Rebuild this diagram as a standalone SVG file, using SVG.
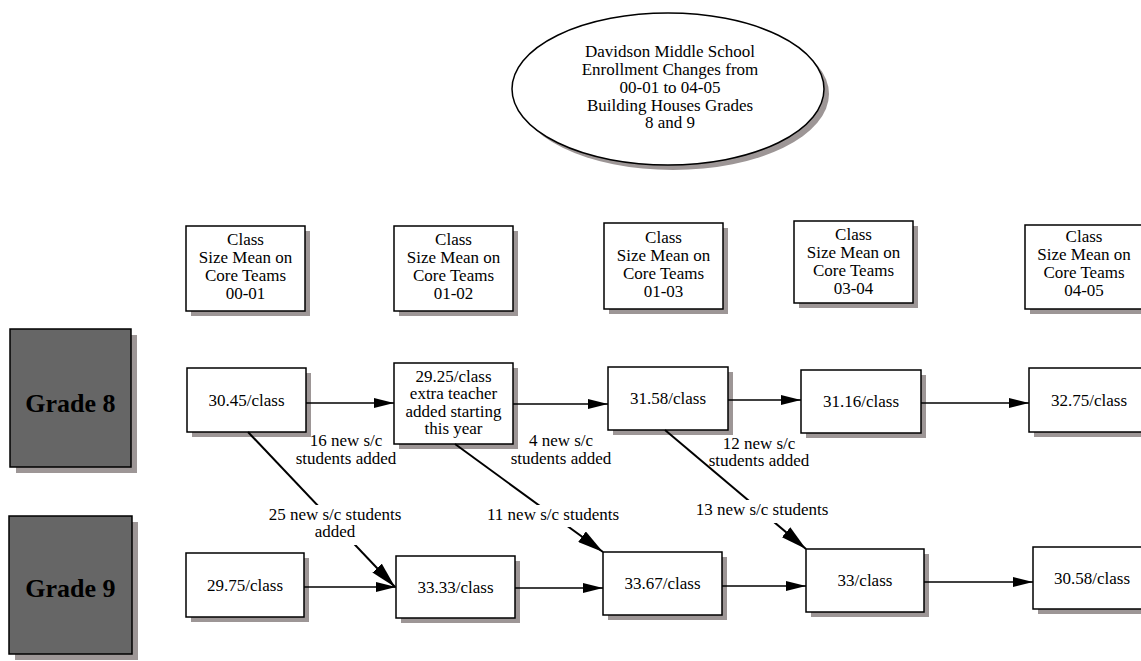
<svg xmlns="http://www.w3.org/2000/svg" width="1141" height="661" viewBox="0 0 1141 661">
  <style>
    .sh{fill:#9d9696}
    .bx{fill:#fff;stroke:#000;stroke-width:1.5}
    .gr{fill:#666;stroke:#000;stroke-width:1.5}
    text{font-family:"Liberation Serif","Times New Roman",serif;font-size:17px;text-anchor:middle;fill:#000}
    .g{font-size:26px;font-weight:bold}
    .ln{stroke:#000;stroke-width:1.5;fill:none;marker-end:url(#ah)}
    .dg{stroke:#000;stroke-width:2;fill:none;marker-end:url(#ahd)}
    .lb{fill:#fff}
  </style>
  <defs>
    <marker id="ah" markerUnits="userSpaceOnUse" markerWidth="20" markerHeight="10" refX="20" refY="5" orient="auto">
      <path d="M0,0 L20,5 L0,10 Z" fill="#000"/>
    </marker>
    <marker id="ahd" markerUnits="userSpaceOnUse" markerWidth="26" markerHeight="13" refX="26" refY="6.5" orient="auto">
      <path d="M0,0 L26,6.5 L0,13 Z" fill="#000"/>
    </marker>
  </defs>
  <rect width="1141" height="661" fill="#fff"/>

  <!-- title -->
  <g id="title">
    <ellipse class="sh" cx="673" cy="94" rx="156" ry="76"/>
    <ellipse class="bx" cx="668" cy="89" rx="156" ry="76"/>
    <text x="670" y="57">Davidson Middle School</text>
    <text x="670" y="75">Enrollment Changes from</text>
    <text x="670" y="93">00-01 to 04-05</text>
    <text x="670" y="111">Building Houses Grades</text>
    <text x="670" y="128">8 and 9</text>
  </g>

  <!-- year headers -->
  <g id="hdr-0001">
    <rect class="sh" x="191" y="231" width="119" height="85"/>
    <rect class="bx" x="186" y="226" width="119" height="85"/>
    <text x="245.5" y="245">Class</text><text x="245.5" y="263">Size Mean on</text><text x="245.5" y="281">Core Teams</text><text x="245.5" y="299">00-01</text>
  </g>
  <g id="hdr-0102">
    <rect class="sh" x="399" y="231" width="119" height="85"/>
    <rect class="bx" x="394" y="226" width="119" height="85"/>
    <text x="453.5" y="245">Class</text><text x="453.5" y="263">Size Mean on</text><text x="453.5" y="281">Core Teams</text><text x="453.5" y="299">01-02</text>
  </g>
  <g id="hdr-0103">
    <rect class="sh" x="609" y="228" width="119" height="86"/>
    <rect class="bx" x="604" y="223" width="119" height="86"/>
    <text x="663.5" y="243">Class</text><text x="663.5" y="261">Size Mean on</text><text x="663.5" y="279">Core Teams</text><text x="663.5" y="297">01-03</text>
  </g>
  <g id="hdr-0304">
    <rect class="sh" x="799" y="226" width="119" height="82"/>
    <rect class="bx" x="794" y="221" width="119" height="82"/>
    <text x="853.5" y="240">Class</text><text x="853.5" y="258">Size Mean on</text><text x="853.5" y="276">Core Teams</text><text x="853.5" y="294">03-04</text>
  </g>
  <g id="hdr-0405">
    <rect class="sh" x="1030" y="230" width="119" height="84"/>
    <rect class="bx" x="1025" y="225" width="119" height="84"/>
    <text x="1084" y="242">Class</text><text x="1084" y="260">Size Mean on</text><text x="1084" y="278">Core Teams</text><text x="1084" y="296">04-05</text>
  </g>

  <!-- grade labels -->
  <g id="grade8">
    <rect class="sh" x="16" y="335" width="121" height="138"/>
    <rect class="gr" x="10" y="329" width="121" height="138"/>
    <text class="g" x="70.5" y="412">Grade 8</text>
  </g>
  <g id="grade9">
    <rect class="sh" x="15" y="522" width="123" height="138"/>
    <rect class="gr" x="9" y="516" width="123" height="138"/>
    <text class="g" x="70.5" y="597">Grade 9</text>
  </g>

  <!-- grade 8 row -->
  <g id="g8-0001">
    <rect class="sh" x="192" y="373" width="119" height="64"/>
    <rect class="bx" x="187" y="368" width="119" height="64"/>
    <text x="246.5" y="405.5">30.45/class</text>
  </g>
  <g id="g8-0102">
    <rect class="sh" x="399" y="368" width="119" height="81"/>
    <rect class="bx" x="394" y="363" width="119" height="81"/>
    <text x="453.5" y="382">29.25/class</text><text x="453.5" y="399">extra teacher</text><text x="453.5" y="417">added starting</text><text x="453.5" y="434">this year</text>
  </g>
  <g id="g8-0103">
    <rect class="sh" x="613" y="372" width="120" height="63"/>
    <rect class="bx" x="608" y="367" width="120" height="63"/>
    <text x="668" y="404">31.58/class</text>
  </g>
  <g id="g8-0304">
    <rect class="sh" x="806" y="375" width="120" height="63"/>
    <rect class="bx" x="801" y="370" width="120" height="63"/>
    <text x="861" y="407">31.16/class</text>
  </g>
  <g id="g8-0405">
    <rect class="sh" x="1034" y="373" width="120" height="64"/>
    <rect class="bx" x="1029" y="368" width="120" height="64"/>
    <text x="1089" y="405.5">32.75/class</text>
  </g>

  <!-- grade 9 row -->
  <g id="g9-0001">
    <rect class="sh" x="191" y="558" width="118" height="64"/>
    <rect class="bx" x="186" y="553" width="118" height="64"/>
    <text x="245" y="590.5">29.75/class</text>
  </g>
  <g id="g9-0102">
    <rect class="sh" x="401" y="561" width="119" height="62"/>
    <rect class="bx" x="396" y="556" width="119" height="62"/>
    <text x="455.5" y="592.5">33.33/class</text>
  </g>
  <g id="g9-0103">
    <rect class="sh" x="608" y="557" width="119" height="63"/>
    <rect class="bx" x="603" y="552" width="119" height="63"/>
    <text x="662.5" y="589">33.67/class</text>
  </g>
  <g id="g9-0304">
    <rect class="sh" x="811" y="554" width="118" height="63"/>
    <rect class="bx" x="806" y="549" width="118" height="63"/>
    <text x="865" y="586">33/class</text>
  </g>
  <g id="g9-0405">
    <rect class="sh" x="1038" y="552" width="118" height="62"/>
    <rect class="bx" x="1033" y="547" width="118" height="62"/>
    <text x="1092" y="583.5">30.58/class</text>
  </g>

  <!-- connectors -->
  <g id="connectors">
    <line class="ln" x1="306" y1="403" x2="394" y2="403"/>
    <line class="ln" x1="513" y1="404" x2="608" y2="404"/>
    <line class="ln" x1="728" y1="400" x2="801" y2="400"/>
    <line class="ln" x1="921" y1="403" x2="1029" y2="403"/>

    <line class="ln" x1="304" y1="587" x2="396" y2="587"/>
    <line class="ln" x1="515" y1="588" x2="603" y2="588"/>
    <line class="ln" x1="722" y1="586" x2="806" y2="586"/>
    <line class="ln" x1="924" y1="582" x2="1033" y2="582"/>

    <line class="dg" x1="248" y1="432" x2="395" y2="587"/>
    <line class="dg" x1="455" y1="444" x2="603" y2="552"/>
    <line class="dg" x1="665" y1="430" x2="806" y2="549"/>

    <text x="346" y="446">16 new s/c</text><text x="346" y="464">students added</text>
    <text x="561" y="446">4 new s/c</text><text x="561" y="464">students added</text>
    <text x="759" y="449">12 new s/c</text><text x="759" y="466">students added</text>

    <rect class="lb" x="266" y="505" width="138" height="40"/>
    <text x="335" y="520">25 new s/c students</text><text x="335" y="537">added</text>
    <rect class="lb" x="486" y="505" width="134" height="22"/>
    <text x="553" y="520">11 new s/c students</text>
    <rect class="lb" x="695" y="500" width="134" height="23"/>
    <text x="762" y="515">13 new s/c students</text>
  </g>
</svg>
